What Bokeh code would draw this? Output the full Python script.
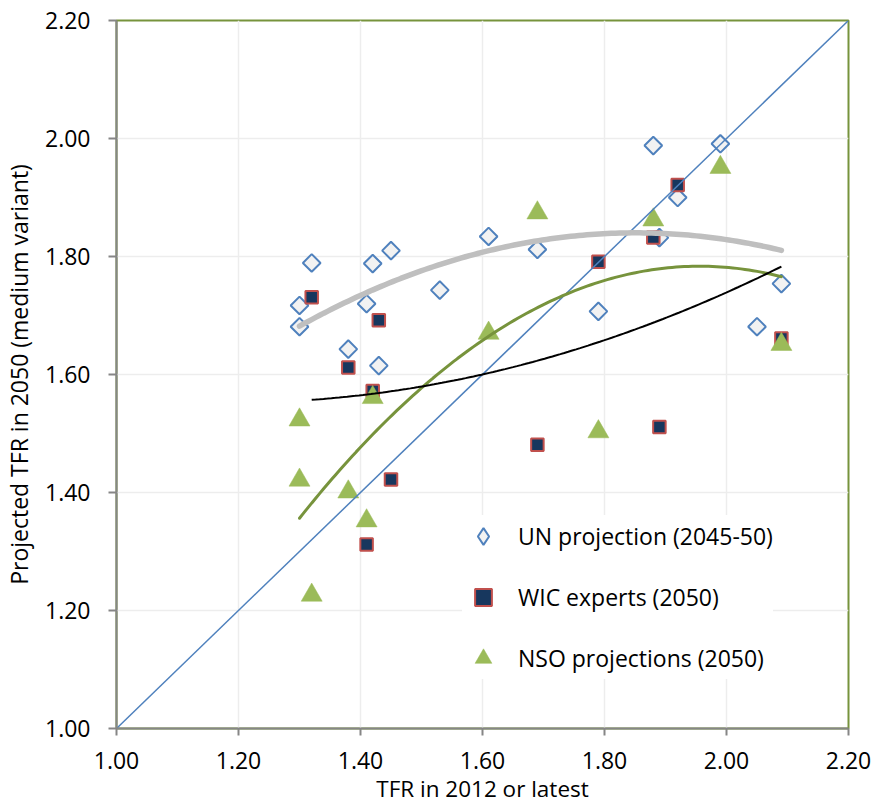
import numpy as np
from bokeh.plotting import figure
from bokeh.models import Legend, LegendItem, NumeralTickFormatter, FixedTicker, Range1d
from bokeh.embed import file_html
from bokeh.resources import INLINE

# ---- data ----
un_x = [1.30, 1.30, 1.32, 1.38, 1.41, 1.42, 1.43, 1.45, 1.53, 1.61, 1.69, 1.79, 1.88, 1.89, 1.92, 1.99, 2.05, 2.09]
un_y = [1.717, 1.681, 1.789, 1.643, 1.720, 1.788, 1.615, 1.810, 1.743, 1.834, 1.812, 1.707, 1.988, 1.832, 1.900, 1.991, 1.681, 1.754]

wic_x = [1.32, 1.38, 1.41, 1.42, 1.43, 1.45, 1.69, 1.79, 1.88, 1.89, 1.92, 2.09]
wic_y = [1.731, 1.612, 1.312, 1.572, 1.692, 1.422, 1.481, 1.791, 1.832, 1.511, 1.921, 1.661]

nso_x = [1.30, 1.30, 1.32, 1.38, 1.41, 1.42, 1.61, 1.69, 1.79, 1.88, 1.99, 2.09]
nso_y = [1.523, 1.421, 1.226, 1.401, 1.352, 1.561, 1.670, 1.874, 1.503, 1.862, 1.951, 1.651]

diag_x = [1.0, 2.2]
diag_y = [1.0, 2.2]

tick_values = [1.0, 1.2, 1.4, 1.6, 1.8, 2.0, 2.2]

labels = ["UN projection (2045-50)", "WIC experts (2050)", "NSO projections (2050)"]
x_title = "TFR in 2012 or latest"
y_title = "Projected TFR in 2050 (medium variant)"

FONT = "Open Sans"


def trend(xs, ys, deg=2):
    c = np.polyfit(xs, ys, deg)
    xx = np.linspace(min(xs), max(xs), 120)
    return xx, np.polyval(c, xx)


p = figure(width=874, height=810,
           x_range=Range1d(1.0, 2.2), y_range=Range1d(1.0, 2.2),
           output_backend="svg", toolbar_location=None,
           min_border_left=116, min_border_right=26,
           min_border_top=20, min_border_bottom=82)

ticker = FixedTicker(ticks=tick_values)
for ax in (p.xaxis, p.yaxis):
    ax.ticker = ticker
    ax.formatter = NumeralTickFormatter(format="0.00")
    ax.axis_line_color = "#868686"
    ax.axis_line_width = 2
    ax.major_tick_line_color = "#868686"
    ax.major_tick_line_width = 2
    ax.major_tick_in = 0
    ax.minor_tick_line_color = None
    ax.major_label_text_font = FONT
    ax.major_label_text_font_size = "23px"
    ax.major_label_text_color = "#000000"
    ax.axis_label_text_font = FONT
    ax.axis_label_text_font_style = "normal"
    ax.axis_label_text_color = "#000000"

p.xaxis.axis_label_text_font_size = "22.5px"
p.yaxis.axis_label_text_font_size = "23px"
p.xaxis.major_tick_out = 7
p.yaxis.major_tick_out = 8
p.xaxis.major_label_standoff = 16
p.yaxis.major_label_standoff = 18
p.xaxis.axis_label = x_title
p.yaxis.axis_label = y_title
p.xaxis.axis_label_standoff = 1
p.yaxis.axis_label_standoff = 7

p.xgrid.ticker = ticker
p.ygrid.ticker = ticker
p.grid.grid_line_color = "#EDEDED"
p.grid.grid_line_width = 1.5

p.outline_line_color = "#77933C"
p.outline_line_width = 2
p.background_fill_color = "white"

# markers
r_un = p.scatter(un_x, un_y, marker="square", angle=np.pi / 4, size=12.5,
                 fill_color="#F2F2F2", line_color="#4F81BD", line_width=2)
r_wic = p.scatter(wic_x, wic_y, marker="square", size=12.5,
                  fill_color="#17375E", line_color="#C0504D", line_width=2)
r_nso = p.scatter(nso_x, nso_y, marker="triangle", size=21,
                  fill_color="#9BBB59", line_color="#9BBB59", line_width=0.5)

# legend-only diamond renderer (not drawn in the plot)
r_un_leg = p.scatter(un_x, un_y, marker="diamond", size=12,
                     fill_color="#F2F2F2", line_color="#4F81BD", line_width=2,
                     visible=False)

# lines
p.line(diag_x, diag_y, line_color="#4F81BD", line_width=1.5)
gx, gy = trend(un_x, un_y)
p.line(gx, gy, line_color="#BFBFBF", line_width=5.5, line_cap="round")
nx, ny = trend(nso_x, nso_y)
p.line(nx, ny, line_color="#77933C", line_width=3, line_cap="round")
wx, wy = trend(wic_x, wic_y)
p.line(wx, wy, line_color="#000000", line_width=2)

legend = Legend(items=[LegendItem(label=labels[0], renderers=[r_un_leg]),
                       LegendItem(label=labels[1], renderers=[r_wic]),
                       LegendItem(label=labels[2], renderers=[r_nso])],
                location=(346, 49), margin=0, padding=15,
                glyph_width=42, glyph_height=42, spacing=19, label_standoff=14,
                label_text_font=FONT, label_text_font_size="23px",
                label_text_color="#000000",
                background_fill_color="white", background_fill_alpha=1.0,
                border_line_color=None)
p.add_layout(legend)

open("out.html", "w").write(file_html(p, INLINE))
